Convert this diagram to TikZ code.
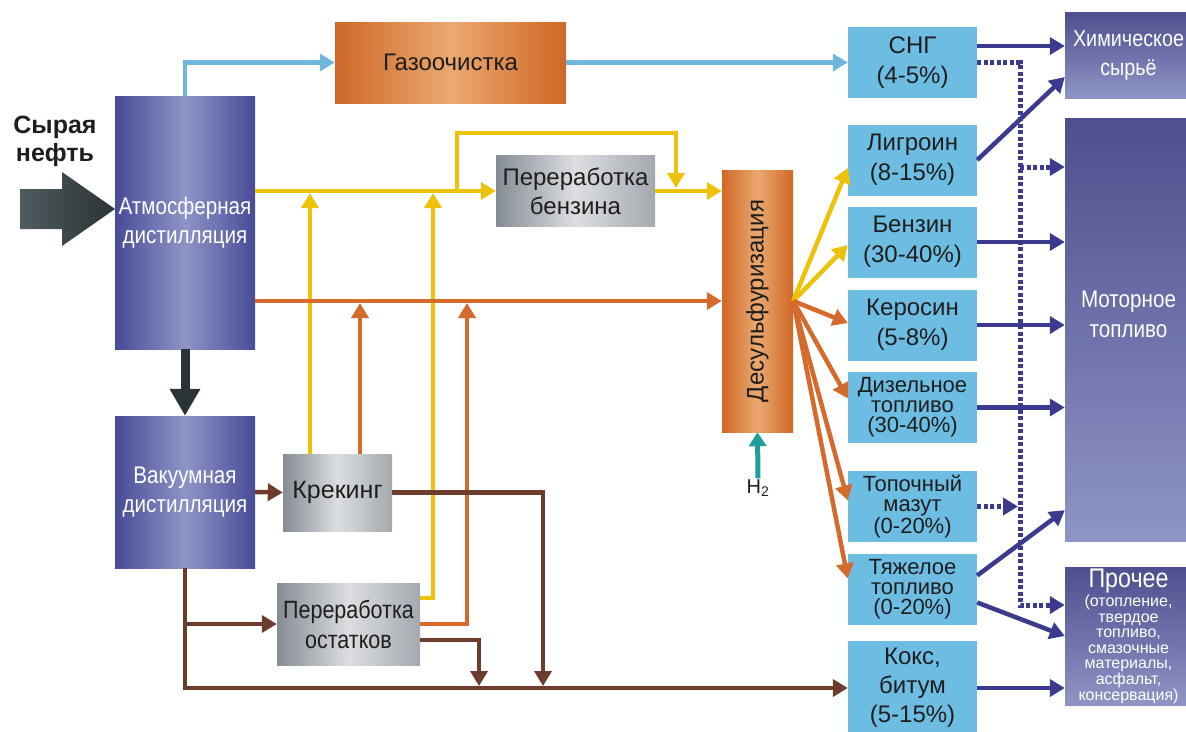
\documentclass[tikz,border=0pt]{standalone}
\usepackage{fontspec}
\setmainfont{Liberation Sans}
\newfontfamily\condf[FakeStretch=0.86]{Liberation Sans}
\usetikzlibrary{arrows.meta}
\newcommand\fsz[2]{\fontsize{#1}{#2}\selectfont}
\definecolor{bluD}{HTML}{484C98}
\definecolor{bluL}{HTML}{8E94C6}
\definecolor{orD}{HTML}{CF6826}
\definecolor{orL}{HTML}{EAA870}
\definecolor{grD}{HTML}{858C94}
\definecolor{grL}{HTML}{DCDEE1}
\definecolor{outB}{HTML}{6DBDE3}
\definecolor{puD}{HTML}{4E4F8E}
\definecolor{puL}{HTML}{8F94C6}
\definecolor{ylc}{HTML}{EFC20A}
\definecolor{orc}{HTML}{D46A2C}
\definecolor{brc}{HTML}{6E3C2C}
\definecolor{blc}{HTML}{6FB7DD}
\definecolor{puc}{HTML}{3C3A8E}
\definecolor{dkc}{HTML}{2A3336}
\definecolor{arrL}{HTML}{505C60}
\definecolor{tealc}{HTML}{1F9D9F}
\definecolor{txt}{HTML}{1E1E1E}
\begin{document}
\begin{tikzpicture}[x=1pt,y=-1pt,
  tip/.style={-{Triangle[length=15pt,width=17pt]}},
  ln/.style={line width=4.5pt, tip},
  yl/.style={ln, draw=ylc},
  orl/.style={ln, draw=orc},
  brl/.style={ln, draw=brc},
  bll/.style={ln, draw=blc},
  pul/.style={ln, draw=puc},
  dotl/.style={ln, line width=5pt, draw=puc, dash pattern=on 4pt off 2.5pt},
  boxbase/.style={inner sep=0pt, align=center},
  bluebox/.style={boxbase, left color=bluD, right color=bluD, middle color=bluL, text=white, font=\condf\fsz{24}{29}},
  orbox/.style={boxbase, left color=orD, right color=orD, middle color=orL, text=txt, font=\fsz{24}{29}},
  grbox/.style={boxbase, left color=grD, right color=grD!75!white, middle color=grL, text=txt, font=\fsz{24}{29}},
  outbox/.style={boxbase, fill=outB, text=txt, font=\fsz{24}{30}, minimum width=129pt, minimum height=71pt},
  purbox/.style={boxbase, top color=puD, bottom color=puL, text=white, minimum width=127pt}
]
\useasboundingbox (0,0) rectangle (1186,731);

% input arrow and label
\shade[left color=arrL, right color=dkc] (20,189) -- (62,189) -- (62,172) -- (115,209) -- (62,246) -- (62,229) -- (20,229) -- cycle;
\node[font=\bfseries\fsz{25}{28}, text=txt, align=center] (crude) at (55,141) {Сырая\\нефть};

% process boxes
\node[bluebox, minimum width=140pt, minimum height=253pt] (atm) at (185,222.5) {Атмосферная\\дистилляция};
\node[bluebox, minimum width=140pt, minimum height=152pt] (vac) at (185,492) {Вакуумная\\дистилляция};
\node[orbox, minimum width=231pt, minimum height=81pt] (gas) at (450.5,62.5) {Газоочистка};
\node[grbox, minimum width=159pt, minimum height=71pt] (benz) at (575.5,191) {Переработка\\бензина};
\node[grbox, minimum width=109pt, minimum height=77pt, font=\fsz{25}{29}] (krek) at (337.5,492.5) {Крекинг};
\node[grbox, minimum width=143pt, minimum height=82pt, font=\condf\fsz{25}{30}] (ost) at (348.5,624) {Переработка\\остатков};
\node[orbox, minimum width=71pt, minimum height=262pt] (desulf) at (757.5,301) {\rotatebox{90}{Десульфуризация}};
\node[font=\fsz{20}{22}, text=txt, inner sep=1pt] (h2) at (758,488) {H\textsubscript{2}};

% product boxes
\node[outbox] (sng) at (912.5,62.5) {СНГ\\(4-5\%)};
\node[outbox] (lig) at (912.5,160) {Лигроин\\(8-15\%)};
\node[outbox] (ben) at (912.5,242) {Бензин\\(30-40\%)};
\node[outbox] (ker) at (912.5,325) {Керосин\\(5-8\%)};
\node[outbox, font=\fsz{22}{20}] (dis) at (912.5,407.5) {Дизельное\\топливо\\(30-40\%)};
\node[outbox, font=\fsz{22}{20}] (topo) at (912.5,506.5) {Топочный\\мазут\\(0-20\%)};
\node[outbox, font=\fsz{22}{20}] (tya) at (912.5,589.5) {Тяжелое\\топливо\\(0-20\%)};
\node[outbox, minimum height=94pt, font=\fsz{24}{29}] (koks) at (912.5,688) {Кокс,\\битум\\(5-15\%)};

% destination boxes
\node[purbox, minimum height=86pt, font=\condf\fsz{23}{29}] (khim) at (1128.5,55) {Химическое\\сырьё};
\node[purbox, minimum height=423pt, label={[text=white, font=\condf\fsz{24}{30}, align=center, yshift=15pt]center:Моторное\\топливо}] (mot) at (1128.5,329.5) {};
\node[purbox, minimum height=138pt, font=\fsz{16}{15.6}] (proch) at (1128.5,636) {{\condf\fsz{27}{24}Прочее}\\[1pt](отопление,\\твердое\\топливо,\\смазочные\\материалы,\\асфальт,\\консервация)};

% blue gas line
\draw[bll] (atm.north) |- (gas.west);
\draw[bll] (gas.east) -- (sng.west);

% dark arrow atm -> vac
\draw[draw=dkc, line width=9pt, -{Triangle[length=27pt,width=29pt]}] (atm.south) -- (vac.north);

% yellow lines
\coordinate (lpA) at (457,191);
\coordinate (lpB) at (676,133);
\coordinate (ky) at (310,191);
\coordinate (oy) at (433,191);
\draw[yl] (atm.east |- benz.west) -- (benz.west);
\draw[yl] (lpA) |- (lpB) -- ([yshift=3pt]lpB |- benz.east);
\draw[yl] (benz.east) -- (benz.east -| desulf.west);
\draw[yl, shorten >=2pt] (krek.north -| ky) -- (ky);
\draw[yl, shorten >=2pt] ([yshift=26pt]ost.east) -| (oy);

% orange lines
\coordinate (ko) at (360,301);
\coordinate (oo) at (467,301);
\draw[orl] (atm.east |- desulf.west) -- (desulf.west);
\draw[orl, shorten >=2pt] (krek.north -| ko) -- (ko);
\draw[orl, shorten >=2pt] (ost.east) -| (oo);

% brown lines
\coordinate (ob) at (479,688);
\coordinate (kb) at (543,688);
\draw[brl] (vac.east) -- (krek.west);
\draw[brl] (vac.south) |- (koks.west);
\draw[brl] (vac.south |- ost.west) -- (ost.west);
\draw[brl, shorten >=2pt] ([yshift=-16pt]ost.east) -| (ob);
\draw[brl, shorten >=2pt] (krek.east) -| (kb);

% hydrogen
\draw[draw=tealc, line width=5pt, -{Triangle[length=14pt,width=17pt]}] (h2.north) -- (desulf.south);

% fan from desulfurization
\draw[yl] (desulf.east) -- ([yshift=-8pt]lig.west);
\draw[yl] (desulf.east) -- ([yshift=-3pt]ben.west);
\draw[orl] (desulf.east) -- ([yshift=2pt]ker.west);
\draw[orl] (desulf.east) -- ([yshift=9pt]dis.west);
\draw[orl] (desulf.east) -- ([yshift=6pt]topo.west);
\draw[orl] (desulf.east) -- ([yshift=11pt]tya.west);

% purple solid arrows
\draw[pul] ([yshift=16.5pt]sng.east) -- ([yshift=16.5pt]sng.east -| khim.west);
\draw[pul] (lig.east) -- ([yshift=-22pt]khim.west);
\draw[pul] (ben.east) -- (ben.east -| mot.west);
\draw[pul] (ker.east) -- (ker.east -| mot.west);
\draw[pul] (dis.east) -- (dis.east -| mot.west);
\draw[pul] ([yshift=14pt]tya.east) -- ([yshift=31pt]mot.south west);
\draw[pul] ([yshift=-13pt]tya.east) -- (proch.west);
\draw[pul] (koks.east) -- (koks.east -| proch.west);

% purple dotted arrows
\coordinate (dvT) at (1020,62.5);
\coordinate (dvM) at (1020,167);
\coordinate (dvB) at (1020,605);
\draw[dotl] (sng.east) -- (dvT) -- (dvB) -- (dvB -| proch.west);
\draw[dotl] (dvM) -- (dvM -| mot.west);
\draw[dotl] (topo.east) -- ([xshift=-2pt]topo.east -| dvT);
\end{tikzpicture}
\end{document}
